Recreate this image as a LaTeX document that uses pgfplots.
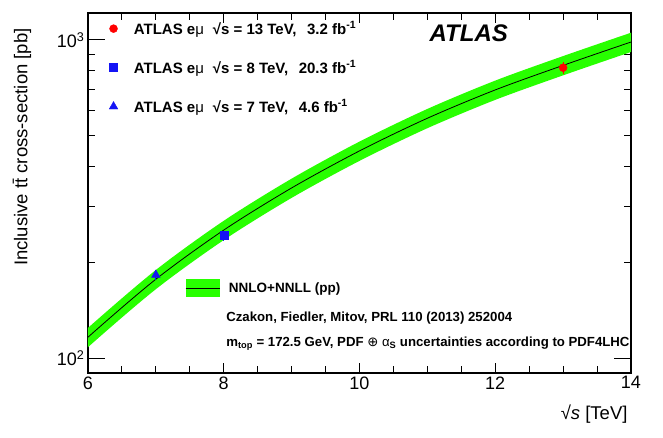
\documentclass[border=0pt]{standalone}
\usepackage{fontspec}
\setmainfont{Liberation Sans}
\newfontfamily\dejavu{DejaVu Sans}
\usepackage{pgfplots}
\pgfplotsset{compat=1.18}
\definecolor{bandgreen}{RGB}{40,255,0}
\definecolor{mkblue}{RGB}{20,20,245}
\begin{document}
\begin{tikzpicture}
\begin{axis}[
  at={(0pt,0pt)}, anchor=south west,
  scale only axis, width=543pt, height=360pt,
  xmin=6, xmax=14, ymode=log, ymin=90, ymax=1215,
  axis line style={line width=1.2pt},
  tick align=inside, xtick pos=both, ytick pos=both,
  tick style={line width=1pt, black},
  major tick length=10pt, minor tick length=7pt,
  xtick={6,8,10,12,14}, minor x tick num=3,
  ytick={100,1000}, yticklabels={10\textsuperscript{2},10\textsuperscript{3}},
  minor ytick={200,300,400,500,600,700,800,900},
  extra y ticks={100,1000}, extra y tick labels={},
  extra y tick style={major tick length=17pt},
  /pgf/number format/assume math mode=true,
  tick label style={font=\fontsize{18}{20}\selectfont},
  xlabel={√\textit{s} [TeV]},
  xlabel style={font=\fontsize{18.5}{20}\selectfont, at={(axis description cs:1,0)}, anchor=north east, yshift=-28pt},
  ylabel={Inclusive t\={t} cross-section [pb]},
  ylabel style={font=\fontsize{18.5}{20}\selectfont, at={(axis description cs:-0.1215,0.967)}, anchor=east},
  legend style={at={(0.0387,0.982)}, anchor=north west, draw=none, fill=none,
    font=\bfseries\fontsize{15}{17}\selectfont, row sep=21pt, inner sep=0pt,
    /tikz/every odd column/.append style={column sep=14pt}},
  legend cell align=left,
  clip=true,
]
% theory band: upper edge then lower edge reversed
\addplot[fill=bandgreen, draw=none, smooth, forget plot] coordinates {
 (5.5,98.6) (6,124.7) (7,189.6) (8,270.5) (9,366.8) (10,479.5) (11,607.2) (12,745.3) (13,889.8) (14,1053.4) (14.5,1142)
 (14.5,995) (14,916.6) (13,774.2) (12,648.3) (11,528.2) (10,417.1) (9,319.2) (8,235.3) (7,165.0) (6,108.5) (5.5,85.8)} -- cycle;
\addplot[black, line width=0.8pt, smooth, forget plot] coordinates {
 (5.5,92.2) (6,116.6) (7,177.3) (8,252.9) (9,343.0) (10,448.3) (11,567.7) (12,696.8) (13,832.0) (14,985.0) (14.5,1068)};
\addplot[only marks, mark=*, red, mark size=4pt,
  error bars/.cd, y dir=both, y explicit, error mark=none,
  error bar style={line width=1pt, red}] coordinates {(13,818) +- (0,36)};
\addlegendentry{ATLAS e{\mdseries μ}\hspace{0.6em}√s = 13 TeV,\hspace{0.7em}3.2 fb\textsuperscript{-1}}
\addplot[only marks, mark=square*, mkblue, mark size=4pt,
  error bars/.cd, y dir=both, y explicit, error mark=none,
  error bar style={line width=1pt, mkblue}] coordinates {(8,242.9) +- (0,9)};
\addlegendentry{ATLAS e{\mdseries μ}\hspace{0.6em}√s = 8 TeV,\hspace{0.7em}20.3 fb\textsuperscript{-1}}
\addplot[only marks, mark=triangle*, mkblue, mark size=5pt,
  error bars/.cd, y dir=both, y explicit, error mark=none,
  error bar style={line width=1pt, mkblue}] coordinates {(7,182.9) +- (0,7)};
\addlegendentry{ATLAS e{\mdseries μ}\hspace{0.6em}√s = 7 TeV,\hspace{0.7em}4.6 fb\textsuperscript{-1}}
\node[font=\bfseries\itshape\fontsize{24}{26}\selectfont] at (axis cs:11.61,1052) {ATLAS};
\node[anchor=west, inner sep=0pt, font=\bfseries\fontsize{13.2}{15}\selectfont] at (axis cs:8.035,133.5) {Czakon, Fiedler, Mitov, PRL 110 (2013) 252004};
\node[anchor=west, inner sep=0pt, font=\bfseries\fontsize{13.2}{15}\selectfont] at (axis cs:8.035,111.4) {m\textsubscript{top} = 172.5 GeV, PDF {\dejavu\mdseries ⊕} {\mdseries α}\textsubscript{S} uncertainties according to PDF4LHC};
\end{axis}
\begin{axis}[
  at={(0pt,0pt)}, anchor=south west,
  scale only axis, width=543pt, height=360pt,
  hide axis, xmin=0, xmax=1, ymin=0, ymax=1,
  legend style={at={(0.1786,0.236)}, anchor=west, draw=none, fill=none,
    font=\bfseries\fontsize{13.5}{15}\selectfont, inner sep=0pt,
    /tikz/every odd column/.append style={column sep=7pt}},
  legend image code/.code={
    \fill[bandgreen] (0pt,-9pt) rectangle (34pt,9pt);
    \draw[black, line width=0.8pt] (0pt,0pt) -- (34pt,0pt);},
]
\addplot[draw=none] coordinates {(0,0) (1,1)};
\addlegendentry{NNLO+NNLL (pp)}
\end{axis}
\pgfresetboundingbox
\useasboundingbox (-88pt,-64pt) rectangle (575pt,373pt);
\end{tikzpicture}
\end{document}
